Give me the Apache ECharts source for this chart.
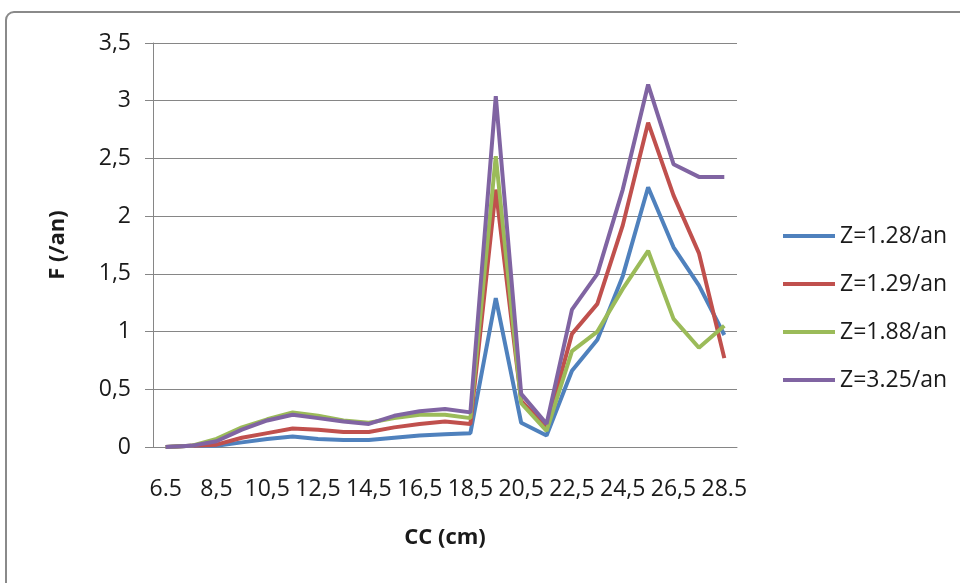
<!DOCTYPE html>
<html>
<head>
<meta charset="utf-8">
<script src="https://cdn.jsdelivr.net/npm/echarts@6/dist/echarts.min.js"></script>
<style>
  html, body { margin: 0; padding: 0; background: #fff; }
  #chart { width: 960px; height: 583px; }
</style>
</head>
<body>
<div id="chart"></div>
<script>
const categories = ['6.5','7,5','8,5','9,5','10,5','11,5','12,5','13,5','14,5','15,5','16,5','17,5','18,5','19,5','20,5','21,5','22,5','23,5','24,5','25,5','26,5','27,5','28.5'];
const seriesNames = ['Z=1.28/an','Z=1.29/an','Z=1.88/an','Z=3.25/an'];
const z128 = [0.00,0.01,0.01,0.04,0.07,0.09,0.07,0.06,0.06,0.08,0.10,0.11,0.12,1.29,0.21,0.10,0.66,0.93,1.48,2.25,1.73,1.40,0.97];
const z129 = [0.00,0.01,0.02,0.08,0.12,0.16,0.15,0.13,0.13,0.17,0.20,0.22,0.20,2.23,0.40,0.17,0.98,1.24,1.92,2.81,2.18,1.68,0.77];
const z188 = [0.00,0.01,0.07,0.17,0.24,0.30,0.27,0.23,0.21,0.25,0.28,0.28,0.25,2.52,0.38,0.14,0.83,1.00,1.37,1.70,1.11,0.86,1.05];
const z325 = [0.00,0.01,0.05,0.15,0.23,0.28,0.25,0.22,0.20,0.27,0.31,0.33,0.30,3.04,0.46,0.20,1.19,1.50,2.23,3.14,2.45,2.34,2.34];
const colors = ['#4F81BD','#C0504D','#9BBB59','#8064A2'];
const values = [z128, z129, z188, z325];

const FONT = "'Open Sans', sans-serif";
const chart = echarts.init(document.getElementById('chart'));
chart.setOption({
  animation: false,
  backgroundColor: '#ffffff',
  color: colors,
  graphic: [{
    type: 'rect', z: -10,
    shape: { x: 6, y: 12, width: 1400, height: 1400, r: 8 },
    style: { fill: 'none', stroke: '#8a8a8a', lineWidth: 2 }
  }],
  grid: { left: 153, right: 223, top: 43, bottom: 136 },
  legend: {
    orient: 'vertical',
    left: 778, top: 219,
    itemWidth: 52, itemHeight: 4, itemGap: 24,
    icon: 'rect',
    textStyle: { fontFamily: FONT, fontSize: 23, color: '#1a1a1a', lineHeight: 24 },
    data: seriesNames
  },
  xAxis: {
    type: 'category',
    data: categories,
    boundaryGap: true,
    name: 'CC (cm)',
    nameLocation: 'middle',
    nameGap: 80,
    nameTextStyle: { fontFamily: FONT, fontSize: 22, fontWeight: 'bold', color: '#1a1a1a' },
    axisLine: { lineStyle: { color: '#868686', width: 1 } },
    axisTick: { show: false },
    axisLabel: { interval: 1, margin: 31, fontFamily: FONT, fontSize: 23, color: '#1a1a1a' }
  },
  yAxis: {
    type: 'value',
    min: 0, max: 3.5, interval: 0.5,
    name: 'F (/an)',
    nameLocation: 'middle',
    nameGap: 84,
    nameRotate: 90,
    nameTextStyle: { fontFamily: FONT, fontSize: 22, fontWeight: 'bold', color: '#1a1a1a' },
    axisLine: { show: true, lineStyle: { color: '#868686', width: 1 } },
    axisTick: { show: true, length: 8, inside: false, lineStyle: { color: '#868686' } },
    splitLine: { lineStyle: { color: '#868686', width: 1 } },
    axisLabel: {
      margin: 22, fontFamily: FONT, fontSize: 23, color: '#1a1a1a',
      formatter: v => String(v).replace('.', ',')
    }
  },
  series: values.map((d, i) => ({
    name: seriesNames[i],
    type: 'line',
    data: d,
    symbol: 'none',
    smooth: false,
    lineStyle: { width: 4, color: colors[i] },
    itemStyle: { color: colors[i] }
  }))
});
</script>
</body>
</html>
